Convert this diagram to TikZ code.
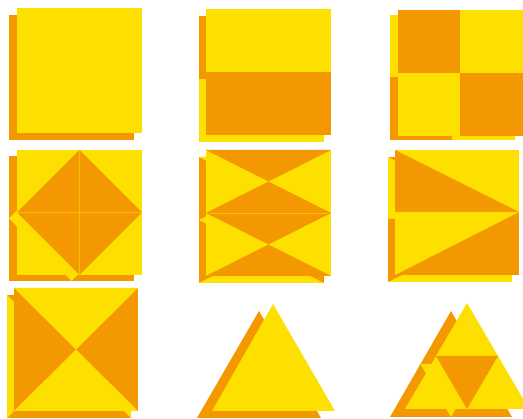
\documentclass[tikz,border=0pt]{standalone}
\begin{document}
\begin{tikzpicture}[x=1pt,y=-1pt,
  Y/.style={fill=yel},O/.style={fill=org},
  seam/.style={draw=yel!55!org,line width=0.5pt}]
\definecolor{yel}{HTML}{FDE000}
\definecolor{org}{HTML}{F39800}
\useasboundingbox (0,0) rectangle (523,419);
% Panel 1
\fill[O] (9,15) rectangle (134,140);
\fill[Y] (17,8) rectangle (142,133);
% Panel 2
\fill[O] (199,16) rectangle (324,79);
\fill[Y] (199,79) rectangle (324,142);
\fill[Y] (206,9) rectangle (331,72);
\fill[O] (206,72) rectangle (331,135);
% Panel 3
\fill[Y] (390,15) rectangle (452,77);
\fill[O] (452,15) rectangle (515,77);
\fill[O] (390,77) rectangle (452,140);
\fill[Y] (452,77) rectangle (515,140);
\fill[O] (398,10) rectangle (460,73);
\fill[Y] (460,10) rectangle (523,73);
\fill[Y] (398,73) rectangle (460,136);
\fill[O] (460,73) rectangle (523,136);
% Panel 4
\fill[O] (9,156) rectangle (134,281);
\fill[Y] (71.5,156) -- (134,218.5) -- (71.5,281) -- (9,218.5) -- cycle;
\fill[Y] (17,150) rectangle (142,275);
\fill[O] (79.5,150) -- (142,212.5) -- (79.5,275) -- (17,212.5) -- cycle;
\draw[seam,line width=0.3pt] (79.5,150) -- (79.5,275) (17,212.5) -- (142,212.5);
% Panel 5
\foreach \yy in {157,220}{
  \fill[O] (199,\yy) rectangle (324,\yy+63);
  \fill[Y] (199,\yy) -- (324,\yy) -- (261.5,\yy+31.5) -- cycle;
  \fill[Y] (199,\yy+63) -- (324,\yy+63) -- (261.5,\yy+31.5) -- cycle;
}
\foreach \yy in {150,213}{
  \fill[Y] (206,\yy) rectangle (331,\yy+63);
  \fill[O] (206,\yy) -- (331,\yy) -- (268.5,\yy+31.5) -- cycle;
  \fill[O] (206,\yy+63) -- (331,\yy+63) -- (268.5,\yy+31.5) -- cycle;
}
\draw[seam] (210,213) -- (327,213);
% Panel 6
\fill[O] (388,157) rectangle (512,219);
\fill[Y] (388,157) -- (388,219) -- (512,219) -- cycle;
\fill[Y] (388,219) rectangle (512,282);
\fill[O] (388,219) -- (388,282) -- (512,219) -- cycle;
\fill[Y] (395,150) rectangle (519,212);
\fill[O] (395,150) -- (395,212) -- (519,212) -- cycle;
\fill[O] (395,212) rectangle (519,275);
\fill[Y] (395,212) -- (395,275) -- (519,212) -- cycle;
% Panel 7
\fill[O] (7,295) rectangle (131,418);
\fill[Y] (7,295) -- (69,356.5) -- (7,418) -- cycle;
\fill[Y] (131,295) -- (69,356.5) -- (131,418) -- cycle;
\fill[O] (14,288) rectangle (138,411);
\fill[Y] (14,288) -- (138,288) -- (76,349.5) -- cycle;
\fill[Y] (14,411) -- (138,411) -- (76,349.5) -- cycle;
% Panel 8
\fill[O] (197,418) -- (321,418) -- (259,311) -- cycle;
\fill[Y] (212,411) -- (335,411) -- (273,304) -- cycle;
% Panel 9
\fill[O] (390,417) -- (512,417) -- (451,311) -- cycle;
\fill[Y] (420.5,364) -- (481.5,364) -- (451,417) -- cycle;
\fill[Y] (405,409) -- (529,409) -- (467,303) -- cycle;
\fill[O] (436,356) -- (498,356) -- (467,409) -- cycle;
\end{tikzpicture}
\end{document}
